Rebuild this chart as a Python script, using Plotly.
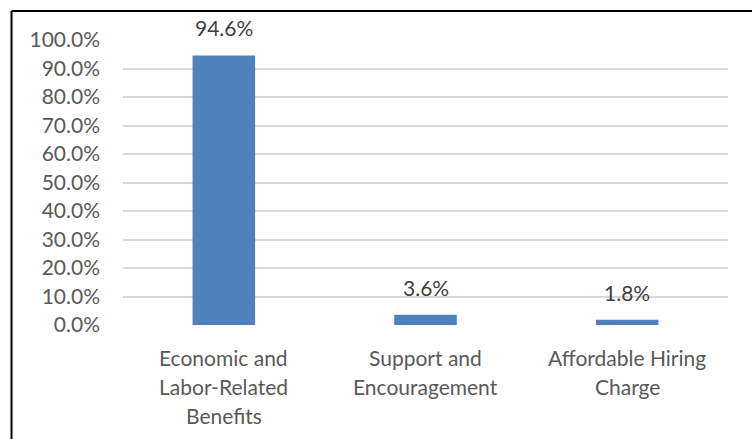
import plotly.graph_objects as go

categories = ["Economic and<br>Labor-Related<br>Benefits", "Support and<br>Encouragement", "Affordable Hiring<br>Charge"]
values = [94.6, 3.6, 1.8]
tick_vals = [0, 10, 20, 30, 40, 50, 60, 70, 80, 90, 100]
tick_text = [f"{v:.1f}%" for v in tick_vals]

W, H = 752, 439
L, R, T, B = 123, 24, 40, 114
pw, ph = W - L - R, H - T - B
FS = 21

fig = go.Figure()
fig.add_trace(go.Bar(
    x=categories, y=values,
    marker=dict(color="#4F81BD", line=dict(width=0)),
    hoverinfo="skip",
))

# value labels above the bars
for c, v in zip(categories, values):
    fig.add_annotation(
        x=c, y=v, text=f"{v:.1f}%", showarrow=False,
        yanchor="bottom", yshift=13,
        font=dict(family="Lato", size=FS, color="#404040"),
    )

# category labels, one annotation per line for wider line spacing
for c in categories:
    for i, line in enumerate(c.split("<br>")):
        fig.add_annotation(
            x=c, y=0, text=line, showarrow=False,
            yanchor="middle", yshift=-(32 + 29 * i),
            font=dict(family="Lato", size=FS, color="#595959"),
        )

# frame around the chart area (left and top edges)
bx = (11.5 - L) / pw
by = (ph + T - 11) / ph
fig.add_shape(type="line", xref="paper", yref="paper", x0=bx, x1=bx, y0=-1, y1=by,
              line=dict(color="black", width=2))
fig.add_shape(type="line", xref="paper", yref="paper", x0=bx, x1=1.5, y0=by, y1=by,
              line=dict(color="black", width=2))

fig.update_layout(
    width=W, height=H,
    margin=dict(l=L, r=R, t=T, b=B, pad=0),
    paper_bgcolor="white", plot_bgcolor="white",
    bargap=0.69,
    showlegend=False,
    font=dict(family="Lato", size=FS, color="#595959"),
    xaxis=dict(showgrid=False, showline=False, ticks="", showticklabels=False),
    yaxis=dict(range=[0, 100], tickvals=tick_vals, ticktext=tick_text,
               showgrid=True, gridcolor="#D9D9D9", gridwidth=1.5,
               zeroline=False, showline=False, ticks="", ticklabelstandoff=22,
               tickfont=dict(size=FS)),
)

fig.write_html("out.html")
